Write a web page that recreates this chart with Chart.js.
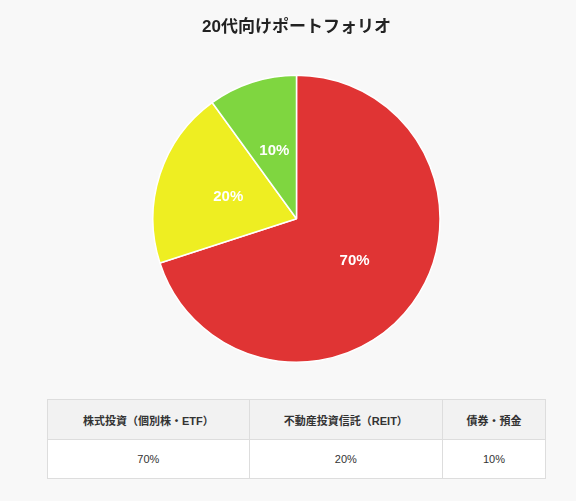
<!DOCTYPE html>
<html lang="ja">
<head>
<meta charset="utf-8">
<script src="https://cdn.jsdelivr.net/npm/chart.js@4"></script>
<style>
  body { margin: 0; background: #f8f8f8; font-family: "Liberation Sans", Arial, "Noto Sans CJK JP", sans-serif; }
  .wrap { position: absolute; left: 47px; top: 0; width: 499px; }
  .chart-box { position: relative; width: 499px; height: 380px; }
  table { border-collapse: collapse; width: 499px; margin-top: 19px; font-size: 11px; color: #333; }
  th, td { border: 1px solid #ddd; text-align: center; }
  th { background: #f2f2f2; font-weight: 600; height: 37px; }
  td { background: #fff; height: 36px; }
</style>
</head>
<body>
<div class="wrap">
  <div class="chart-box"><canvas id="chart"></canvas></div>
  <table id="tbl"></table>
</div>
<script>
const title = "20代向けポートフォリオ";
const categories = ["株式投資（個別株・ETF）", "不動産投資信託（REIT）", "債券・預金"];
const shares = [70, 20, 10];
const colors = ["#e03434", "#eeee22", "#7fd640"];
const colWidths = ["203px", "194px", "102px"];

// table below the chart
const tbl = document.getElementById("tbl");
tbl.innerHTML =
  "<tr>" + categories.map((c, i) => `<th style="width:${colWidths[i]}">${c}</th>`).join("") + "</tr>" +
  "<tr>" + shares.map(v => `<td>${v}%</td>`).join("") + "</tr>";

// percent labels inside slices
const sliceLabels = {
  id: "sliceLabels",
  afterDatasetsDraw(chart) {
    const ctx = chart.ctx;
    const meta = chart.getDatasetMeta(0);
    ctx.save();
    ctx.font = "bold 15px 'Liberation Sans', Arial, sans-serif";
    ctx.fillStyle = "#fff";
    ctx.textAlign = "center";
    ctx.textBaseline = "middle";
    meta.data.forEach((arc, i) => {
      const p = arc.tooltipPosition();
      ctx.fillText(shares[i] + "%", p.x, p.y);
    });
    ctx.restore();
  }
};

new Chart(document.getElementById("chart"), {
  type: "pie",
  data: {
    labels: categories,
    datasets: [{ data: shares, backgroundColor: colors, borderColor: "#fff", borderWidth: 1.5 }]
  },
  options: {
    responsive: true,
    maintainAspectRatio: false,
    animation: false,
    layout: { padding: { top: 0, bottom: 17 } },
    plugins: {
      legend: { display: false },
      tooltip: { enabled: false },
      title: {
        display: true, text: title, color: "#222",
        font: { size: 17, weight: "bold", family: "'Liberation Sans', Arial, 'Noto Sans CJK JP', sans-serif" },
        padding: { top: 17, bottom: 37 }
      }
    }
  },
  plugins: [sliceLabels]
});
</script>
</body>
</html>
